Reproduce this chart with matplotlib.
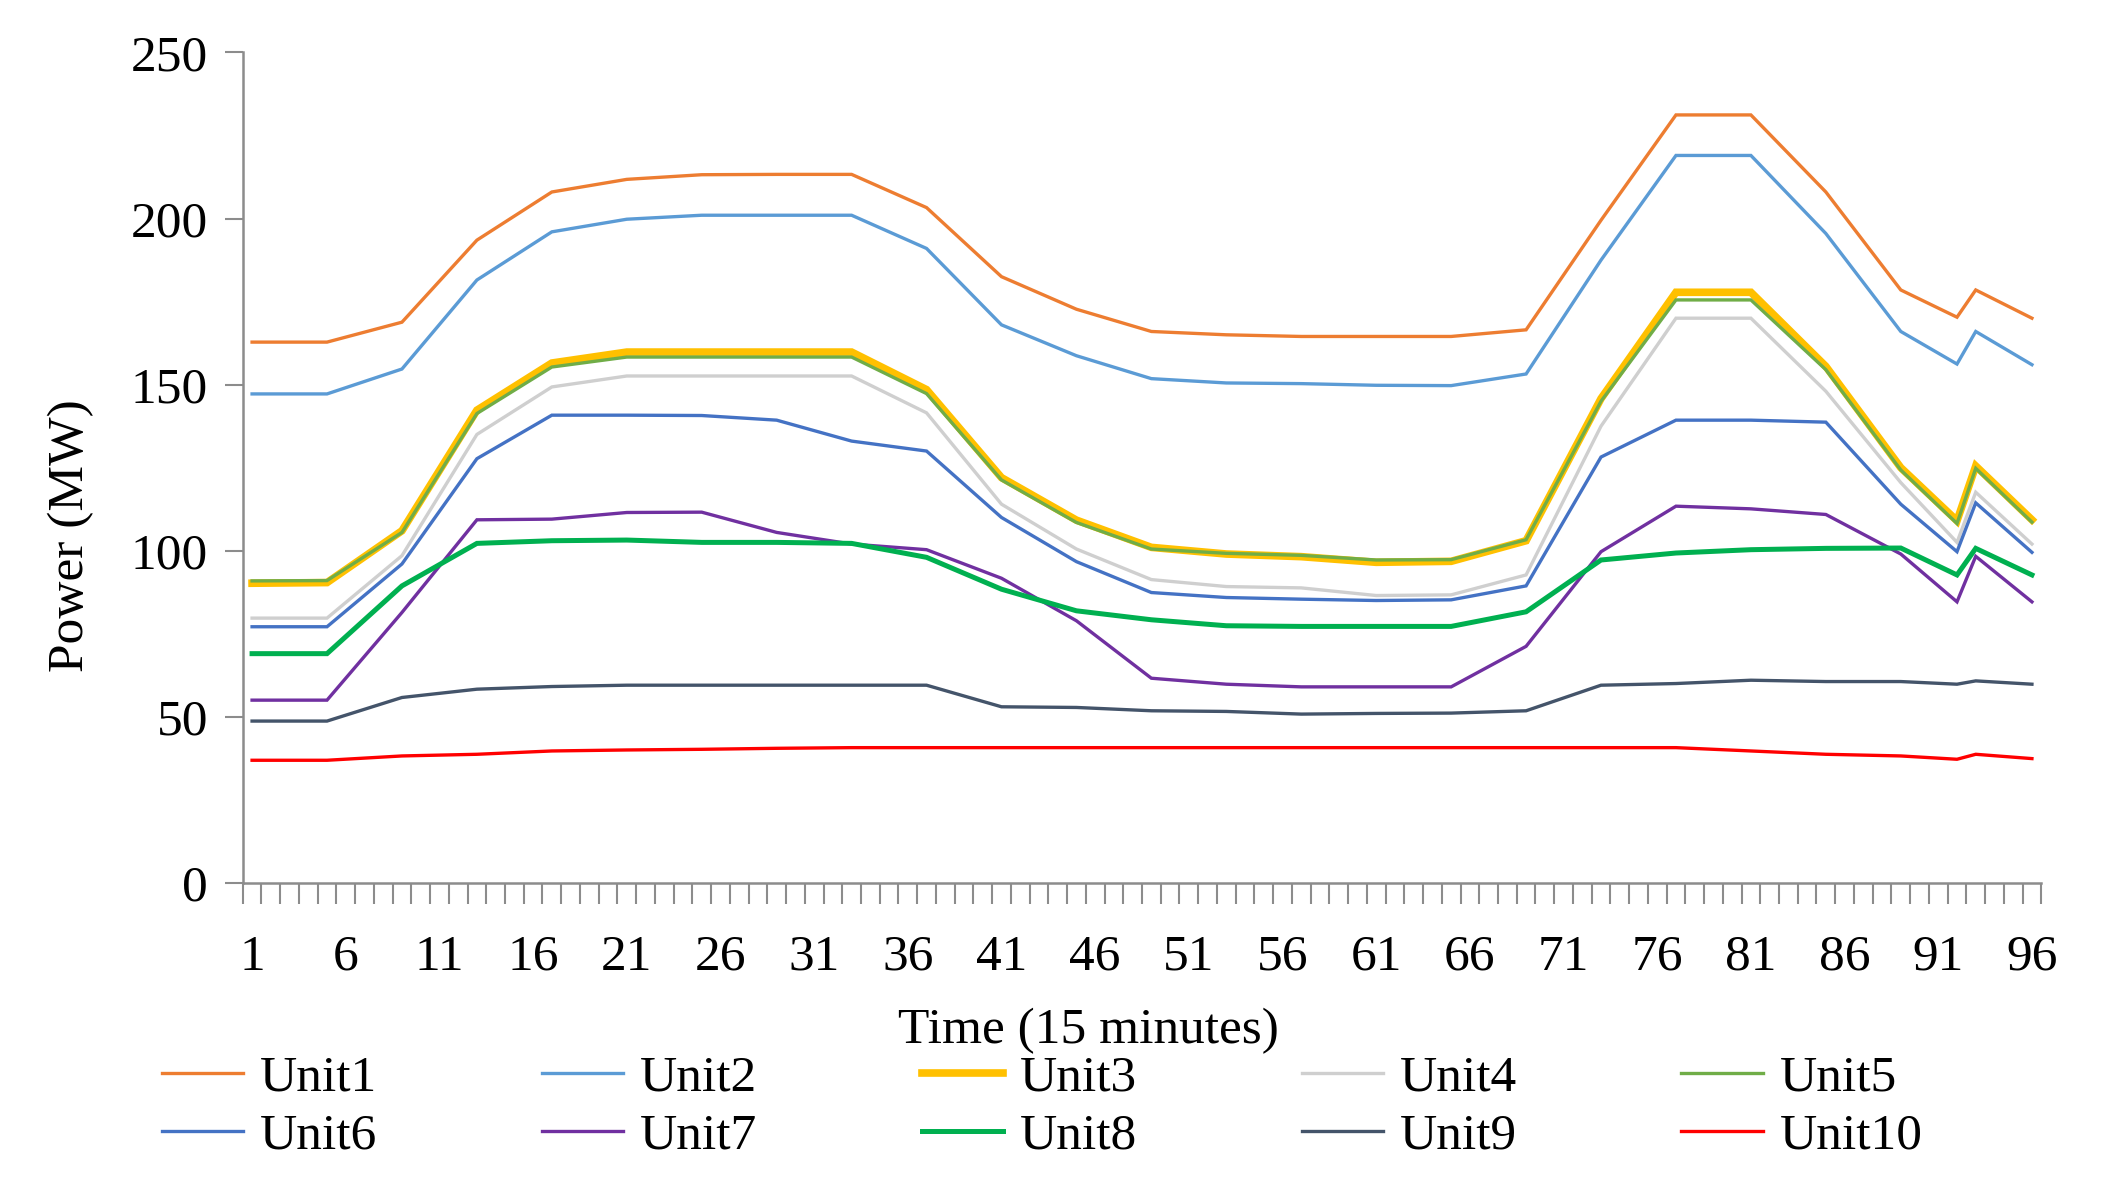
import matplotlib
matplotlib.use("Agg")
import matplotlib.pyplot as plt

plt.rcParams['font.family'] = ['Liberation Serif', 'DejaVu Serif']

time_pts = [1, 5, 9, 13, 17, 21, 25, 29, 33, 37, 41, 45, 49, 53, 57, 61, 65, 69, 73, 77, 81, 85, 89, 92, 93, 96]

unit1 = [162.8, 162.8, 168.8, 193.5, 208.0, 211.8, 213.2, 213.3, 213.3, 203.3, 182.5, 172.7, 166.0, 165.0, 164.5, 164.5, 164.5, 166.5, 199.5, 231.2, 231.2, 208.0, 178.5, 170.3, 178.5, 170.0]
unit2 = [147.2, 147.2, 154.7, 181.5, 196.0, 199.8, 201.0, 201.0, 201.0, 191.0, 168.0, 158.7, 151.8, 150.5, 150.3, 149.8, 149.7, 153.2, 187.5, 219.0, 219.0, 195.5, 166.0, 156.2, 166.0, 156.0]
unit3 = [90.2, 90.4, 106.0, 142.3, 156.5, 159.8, 159.8, 159.8, 159.8, 148.5, 122.0, 109.2, 101.0, 99.0, 98.2, 96.5, 96.8, 103.0, 145.8, 177.8, 177.8, 155.5, 125.0, 109.0, 125.5, 109.3]
unit4 = [79.7, 79.7, 98.5, 135.0, 149.3, 152.6, 152.6, 152.6, 152.6, 141.5, 114.0, 100.5, 91.3, 89.2, 88.8, 86.5, 86.7, 92.7, 137.5, 170.0, 170.0, 148.0, 120.5, 102.5, 117.6, 102.0]
unit5 = [90.9, 91.0, 105.5, 141.3, 155.3, 158.3, 158.3, 158.3, 158.3, 147.3, 121.3, 108.5, 100.5, 99.2, 98.6, 97.2, 97.3, 103.3, 145.0, 175.5, 175.5, 154.5, 124.3, 108.2, 124.8, 108.6]
unit6 = [77.1, 77.1, 96.0, 127.7, 140.8, 140.8, 140.7, 139.3, 133.0, 130.0, 110.0, 96.7, 87.4, 85.9, 85.4, 85.0, 85.2, 89.4, 128.2, 139.3, 139.3, 138.7, 114.0, 99.7, 114.4, 99.5]
unit7 = [55.0, 55.0, 81.4, 109.3, 109.5, 111.5, 111.6, 105.5, 102.0, 100.3, 91.7, 78.9, 61.6, 59.8, 59.0, 59.0, 59.0, 71.2, 99.7, 113.4, 112.6, 110.9, 99.0, 84.6, 98.3, 84.6]
unit8 = [69.0, 69.0, 89.4, 102.2, 103.0, 103.2, 102.5, 102.5, 102.2, 98.0, 88.4, 81.9, 79.2, 77.4, 77.2, 77.2, 77.2, 81.6, 97.2, 99.3, 100.3, 100.7, 100.8, 92.7, 100.7, 92.7]
unit9 = [48.7, 48.7, 55.8, 58.3, 59.1, 59.5, 59.5, 59.5, 59.5, 59.5, 53.0, 52.8, 51.8, 51.6, 50.8, 51.0, 51.1, 51.8, 59.5, 60.0, 61.0, 60.6, 60.6, 59.8, 60.8, 59.8]
unit10 = [36.9, 36.9, 38.2, 38.7, 39.7, 40.0, 40.2, 40.5, 40.7, 40.7, 40.7, 40.7, 40.7, 40.7, 40.7, 40.7, 40.7, 40.7, 40.7, 40.7, 39.7, 38.7, 38.2, 37.2, 38.7, 37.4]

labels = ["Unit1", "Unit2", "Unit3", "Unit4", "Unit5", "Unit6", "Unit7", "Unit8", "Unit9", "Unit10"]
series = [unit1, unit2, unit3, unit4, unit5, unit6, unit7, unit8, unit9, unit10]
colors = ["#ED7D31", "#5B9BD5", "#FFC000", "#CFCFCF", "#70AD47", "#4472C4", "#7030A0", "#00B050", "#44546A", "#FF0000"]
widths = [2.4, 2.4, 5.5, 2.4, 2.4, 2.4, 2.4, 3.6, 2.4, 2.4]

xtick_labels = list(range(1, 97, 5))

fig = plt.figure(figsize=(21.16, 11.93), dpi=100)
ax = fig.add_axes([0.1147, 0.260, 0.850, 0.956 - 0.260])

handles = []
for lab, ys, c, w in zip(labels, series, colors, widths):
    h, = ax.plot(time_pts, ys, color=c, lw=w, label=lab, solid_joinstyle='miter')
    handles.append(h)

ax.set_xlim(0.5, 96.5)
ax.set_ylim(0, 250)
ax.set_yticks([0, 50, 100, 150, 200, 250])

axis_gray = "#8C8C8C"
for s in ['top', 'right']:
    ax.spines[s].set_visible(False)
for s in ['left', 'bottom']:
    ax.spines[s].set_color(axis_gray)
    ax.spines[s].set_linewidth(1.8)

# category boundaries as tick marks, labels at category centres
ax.set_xticks([k + 0.5 for k in range(0, 97)])
ax.set_xticklabels([])
ax.set_xticks(xtick_labels, minor=True)
ax.set_xticklabels([str(v) for v in xtick_labels], minor=True)
ax.tick_params(axis='x', which='major', direction='out', length=15, width=1.5, color=axis_gray)
ax.tick_params(axis='x', which='minor', length=0, pad=37, labelsize=37)
ax.tick_params(axis='y', direction='out', length=13, width=1.5, color=axis_gray, pad=12, labelsize=37)

fig.text(0.0335, 0.551, "Power (MW)", rotation=90, ha='center', va='center', fontsize=37)
fig.text(0.5145, 0.1257, "Time (15 minutes)", ha='center', va='baseline', fontsize=37)

# legend laid out row by row (5 columns, 2 rows)
order = [0, 5, 1, 6, 2, 7, 3, 8, 4, 9]
fig.legend(handles=[handles[i] for i in order], labels=[labels[i] for i in order],
           ncol=5, loc='upper left',
           bbox_to_anchor=(0.0766, 0.116), frameon=False, fontsize=37,
           handlelength=1.58, handletextpad=0.33, columnspacing=3.2,
           labelspacing=0.22, borderpad=0, borderaxespad=0)

fig.savefig("out.png", dpi=100)
